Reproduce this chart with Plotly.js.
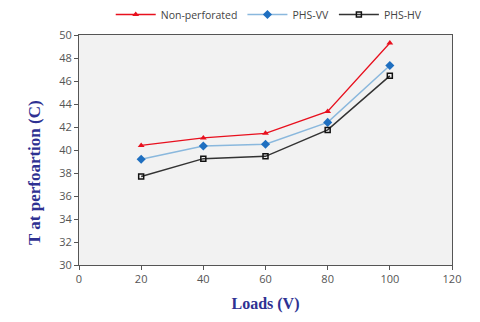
<!DOCTYPE html>
<html><head><meta charset="utf-8">
<script src="https://cdn.plot.ly/plotly-3.0.1.min.js"></script>
<style>html,body{margin:0;padding:0;background:#fff;}#chart{width:480px;height:322px;}</style>
</head><body><div id="chart"></div>
<script>
const loads = [20, 40, 60, 80, 100];
const nonPerforated = [40.4, 41.05, 41.45, 43.35, 49.3];
const phsVV = [39.2, 40.35, 40.5, 42.4, 47.35];
const phsHV = [37.7, 39.25, 39.45, 41.75, 46.45];
const seriesNames = ['Non-perforated', 'PHS-VV', 'PHS-HV'];
const yTitle = 'T at perfoartion (C)';
const xTitle = 'Loads (V)';

const traces = [
  {x: loads, y: nonPerforated, name: seriesNames[0], mode: 'lines+markers',
   line: {color: '#e8101e', width: 1.3}, marker: {symbol: 'triangle-up', size: 6, color: '#e8101e'}},
  {x: loads, y: phsVV, name: seriesNames[1], mode: 'lines+markers',
   line: {color: '#8ab8dd', width: 1.5}, marker: {symbol: 'diamond', size: 7, color: '#1f6fc0'}},
  {x: loads, y: phsHV, name: seriesNames[2], mode: 'lines+markers',
   line: {color: '#333333', width: 1.5}, marker: {symbol: 'square-open', size: 5, color: '#111', line: {width: 1.5}}}
];

const titleFont = {family: 'Liberation Serif, serif', size: 17, color: '#2e3192', weight: 'bold'};
const layout = {
  width: 480, height: 322,
  margin: {l: 79, r: 28, t: 35, b: 57},
  paper_bgcolor: '#ffffff', plot_bgcolor: '#f2f2f2',
  font: {family: 'Open Sans, Liberation Sans, sans-serif', size: 11, color: '#555'},
  showlegend: true,
  legend: {orientation: 'h', x: 0.51, xanchor: 'center', y: 0.955, yanchor: 'middle',
    yref: 'container', font: {size: 10.5, color: '#444'}, itemwidth: 40},
  xaxis: {range: [0, 120], dtick: 20, showgrid: false, zeroline: false,
    showline: true, linecolor: '#555', linewidth: 1, mirror: true,
    ticks: 'outside', ticklen: 4, tickcolor: '#555',
    tickfont: {size: 11, color: '#555'},
    title: {text: xTitle, font: {family: 'Liberation Serif, serif', size: 16, color: '#2e3192', weight: 'bold'}, standoff: 12}},
  yaxis: {range: [30, 50], dtick: 2, showgrid: false, zeroline: false,
    showline: true, linecolor: '#555', linewidth: 1, mirror: true,
    ticks: 'outside', ticklen: 4, tickcolor: '#555',
    tickfont: {size: 11, color: '#555'}},
  annotations: [{text: yTitle, xref: 'paper', yref: 'paper', x: 0, y: 0.4,
    xanchor: 'center', yanchor: 'middle', xshift: -45, textangle: -90,
    showarrow: false, font: titleFont}]
};
Plotly.newPlot('chart', traces, layout, {displayModeBar: false});
</script></body></html>
